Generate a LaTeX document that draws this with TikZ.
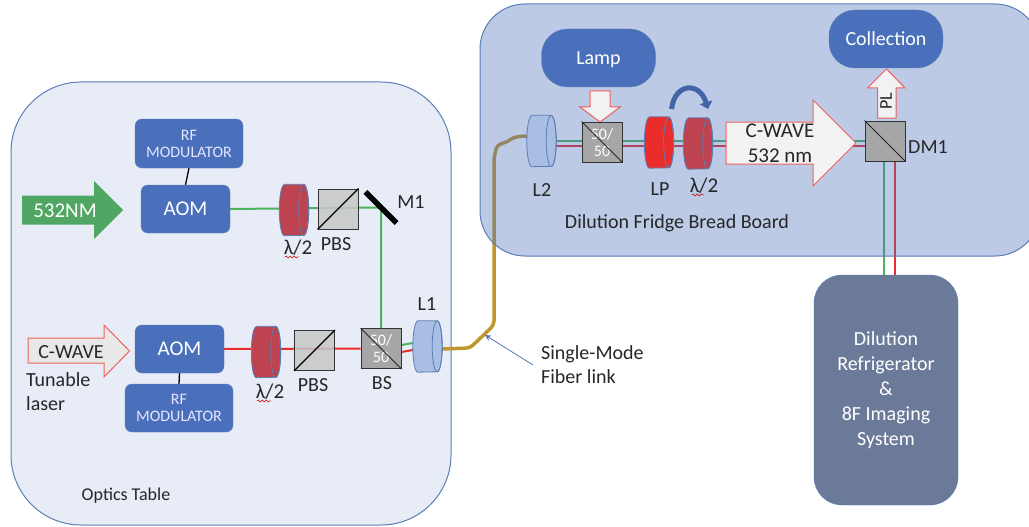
\documentclass[tikz,border=0pt]{standalone}
\usepackage{fontspec}
\setmainfont{Carlito}
\usepackage{xcolor}
\usetikzlibrary{arrows.meta,decorations.pathmorphing}
\definecolor{panelblue}{HTML}{E8ECF6}
\definecolor{edgeblue}{HTML}{5B7DB6}
\definecolor{boxblue}{HTML}{4A70BB}
\definecolor{lensblue}{HTML}{A8BEE2}
\definecolor{platered}{HTML}{BC434F}
\definecolor{beamgreen}{HTML}{4DB35C}
\definecolor{beamred}{HTML}{EA2D2A}
\definecolor{fibergold}{HTML}{BE972F}
\definecolor{arrowgreen}{HTML}{4FA763}
\definecolor{fridgeblue}{HTML}{6C7A99}
\pgfdeclarelayer{panel}
\pgfdeclarelayer{beam}
\pgfdeclarelayer{board}
\pgfsetlayers{panel,beam,board,main}
\tikzset{
  x=1pt,y=-1pt,
  lab/.style={inner sep=0pt,text=black!85,font=\fontsize{20}{24}\selectfont,align=center},
  boxa/.style={draw=edgeblue,fill=boxblue,rounded corners=7pt,text=white,align=center,inner sep=0pt},
  aombox/.style={boxa,minimum width=89pt,minimum height=48pt,font=\fontsize{21}{25}\selectfont},
  rfbox/.style={boxa,minimum width=108pt,minimum height=48pt,font=\fontsize{16}{18}\selectfont,text=white!90!blue},
  pillbox/.style={boxa,rounded corners=26pt,minimum width=114pt,minimum height=58pt,font=\fontsize{20}{24}\selectfont,text depth=0pt},
  lensbox/.style={inner sep=0pt,minimum width=29pt,minimum height=51pt},
  cube/.style={draw=black!80,line width=1pt,fill=black!22,fill opacity=0.85,inner sep=0pt,minimum size=40pt},
  splitter/.style={draw=black!80,line width=1pt,fill=black!35,inner sep=0pt,minimum size=40pt,text=white,align=center,font=\fontsize{16}{17}\selectfont},
  fatarrow/.style={draw=beamred!75!white,line width=1pt,fill=black!5,line join=miter},
  beamg/.style={draw=beamgreen,line width=2pt},
  beamr/.style={draw=beamred,line width=2pt},
  squiggle/.style={draw=red!80!black,line width=0.6pt,decorate,decoration={snake,amplitude=1pt,segment length=4pt}},
}
% cylinder seen from the side: name, position, fill colour
\newcommand{\cylnode}[3]{
  \node (#1) at #2 [lensbox] {};
  \draw[draw=edgeblue,line width=0.8pt,fill=#3] ([xshift=5pt]#1.north west) -- ([xshift=-5pt]#1.north east)
    arc[start angle=90,end angle=-90,x radius=5pt,y radius=25.5pt] -- ([xshift=5pt]#1.south west)
    arc[start angle=270,end angle=90,x radius=5pt,y radius=25.5pt] -- cycle;
  \draw[draw=edgeblue,line width=0.8pt] ([xshift=-5pt]#1.east) ellipse [x radius=5pt,y radius=25.5pt];
}
\begin{document}
\begin{tikzpicture}
\useasboundingbox (0,0) rectangle (1029,527);
\begin{pgfonlayer}{panel}
\node (table) at (231,303.5) [draw=edgeblue,line width=1pt,fill=panelblue,rounded corners=70pt,minimum width=440pt,minimum height=443pt] {};
\end{pgfonlayer}
\begin{pgfonlayer}{board}
\node (bread) at (760,130) [draw=edgeblue,line width=1pt,fill=boxblue,fill opacity=0.37,rounded corners=45pt,minimum width=560pt,minimum height=252pt] {};
\end{pgfonlayer}
% optics table, upper path
\node (rfa) at (189,143.5) [rfbox,minimum height=49pt] {RF\\[-1pt]MODULATOR};
\node (aoma) at (185.5,209) [aombox] {AOM};
\fill[arrowgreen] (22,195.5) -- (94,195.5) -- (94,181) -- (123,210) -- (94,239) -- (94,224.5) -- (22,224.5) -- cycle;
\node (greentext) at (65,211) [lab,text=white,font=\fontsize{21}{25}\selectfont] {532NM};
\cylnode{hwpa}{(294,210)}{platered}
\node (pbsa) at (338,209) [cube] {};
\node (m1) at (381,207.5) [fill=black,rotate=-45,minimum width=44pt,minimum height=5.5pt,inner sep=0pt] {};
\node (m1text) at (411,202) [lab] {M1};
\node (hwpatext) at (298,248) [lab,font=\fontsize{21}{25}\selectfont] {λ/2};
\node (pbsatext) at (336,244) [lab] {PBS};
% optics table, lower path
\node (aomb) at (179.5,349) [aombox] {AOM};
\node (rfb) at (179,408) [rfbox] {RF\\[-1pt]MODULATOR};
\draw[fatarrow,fill=black!9] (28,338) -- (104,338) -- (104,325) -- (129.5,351) -- (104,377) -- (104,363) -- (28,363) -- cycle;
\node (redtext) at (71,352) [lab] {C-WAVE};
\node (tunable) at (26,392) [lab,anchor=west,align=left] {Tunable\\laser};
\cylnode{hwpb}{(266,352)}{platered}
\node (pbsb) at (314.5,350.5) [cube] {};
\node (bsa) at (381,348.5) [splitter] {50/\\50};
\cylnode{lensa}{(427.5,346.5)}{lensblue}
\node (l1text) at (427,304) [lab] {L1};
\node (hwpbtext) at (270,392) [lab,font=\fontsize{21}{25}\selectfont] {λ/2};
\node (pbsbtext) at (313,385) [lab] {PBS};
\node (bstext) at (382,383) [lab] {BS};
\node (tabletext) at (126,495.5) [lab,font=\fontsize{18}{22}\selectfont] {Optics Table};
\draw[line width=1.2pt] (pbsa.south west) -- (pbsa.north east);
\draw[line width=1.2pt] (pbsb.south west) -- (pbsb.north east);
\draw[line width=1pt,black!85] (bsa.north west) -- (bsa.south east);
\draw[line width=1.3pt] (rfa.south) -- (aoma.north);
\draw[line width=1.3pt] (aomb.south) -- (rfb.north);
% bread board
\node (lamp) at (598.5,58) [pillbox] {Lamp};
\node (collect) at (886,39) [pillbox] {Collection};
\cylnode{lensb}{(541.5,141)}{lensblue}
\draw[fatarrow] (590,91) -- (610,91) -- (610,107) -- (620,107) -- (600,122) -- (580,107) -- (590,107) -- cycle;
\node (bsb) at (602,142) [splitter] {50/\\50};
\cylnode{lp}{(659,142.5)}{beamred}
\cylnode{hwpc}{(698,143.5)}{platered}
\draw[fatarrow] (726,122) -- (813,122) -- (813,100) -- (856,143) -- (813,186) -- (813,164) -- (726,164) -- cycle;
\node (cwavetext) at (780,143) [lab,font=\fontsize{21}{25}\selectfont] {C-WAVE\\532 nm};
\node (dma) at (885,141) [splitter] {};
\draw[fatarrow] (877.5,118) -- (896,118) -- (896,88) -- (905,88) -- (886.5,69) -- (867.5,88) -- (877.5,88) -- cycle;
\node (pltext) at (886,101) [lab,rotate=90,font=\fontsize{18}{22}\selectfont] {PL};
\node (dmtext) at (928,147) [lab] {DM1};
\node (l2text) at (542,190) [lab] {L2};
\node (lptext) at (660,189) [lab] {LP};
\node (hwpctext) at (704,186) [lab,font=\fontsize{21}{25}\selectfont] {λ/2};
\node (breadtext) at (677,223.5) [lab] {Dilution Fridge Bread Board};
\draw[line width=1pt,black!85] (bsb.north west) -- (bsb.south east);
\draw[line width=1pt,black!85] (dma.north west) -- (dma.south east);
\coordinate (rotstart) at (671.5,109);
\coordinate (rotend) at (708,109);
\draw[draw=boxblue!90!black,line width=5pt,-{Triangle[length=7pt,width=13pt]}] (rotstart) .. controls (675,82) and (700,82) .. (rotend);
% fridge and fiber
\node (fridge) at (886,390) [draw=edgeblue,fill=fridgeblue,rounded corners=28pt,minimum width=144pt,minimum height=230pt,text=white,align=center,font=\fontsize{20}{25}\selectfont] {Dilution\\Refrigerator\\\&\\8F Imaging\\System};
\node (fibertext) at (541,365) [lab,anchor=west,align=left] {Single-Mode\\Fiber link};
\coordinate (fiberhit) at (485,335);
\draw[draw=edgeblue,line width=0.8pt,-{Stealth[length=6pt,width=6pt]}] ([xshift=-8pt]fibertext.west) -- (fiberhit);
\draw[squiggle] ([xshift=-13pt,yshift=-1pt]hwpatext.south) -- ([xshift=1pt,yshift=-1pt]hwpatext.south);
\draw[squiggle] ([xshift=-13pt,yshift=-1pt]hwpbtext.south) -- ([xshift=1pt,yshift=-1pt]hwpbtext.south);
\draw[squiggle] ([xshift=-12pt,yshift=-1pt]hwpctext.south) -- ([xshift=0pt,yshift=-1pt]hwpctext.south);
\begin{pgfonlayer}{beam}
\draw[beamg] (aoma.east) -- (m1.center) -- (bsa.north);
\draw[beamr] (aomb.east) -- (bsa.west);
\draw[beamg] ([yshift=3.5pt]bsa.east) -- ([yshift=3.5pt]lensa.west);
\draw[beamr] ([yshift=-3.5pt]bsa.east) -- ([yshift=-3.5pt]lensa.west);
\draw[beamg] (lensb.east) -- (dma.west);
\draw[beamr] ([yshift=-5pt]lensb.east) -- ([yshift=-5pt]dma.west);
\draw[beamg] ([xshift=-1pt]dma.south) -- ([xshift=-1pt]dma.south |- fridge.north);
\draw[beamr] ([xshift=9.5pt]dma.south) -- ([xshift=9.5pt]dma.south |- fridge.north);
\draw[draw=fibergold,line width=3.5pt,rounded corners=4pt] ([yshift=-2.5pt]lensa.east) -- (470,348) -- (494,325) -- (494,158) -- (497,145) -- (507,142) -- (514,137) -- ([yshift=5pt]lensb.west);
\end{pgfonlayer}
\end{tikzpicture}
\end{document}
